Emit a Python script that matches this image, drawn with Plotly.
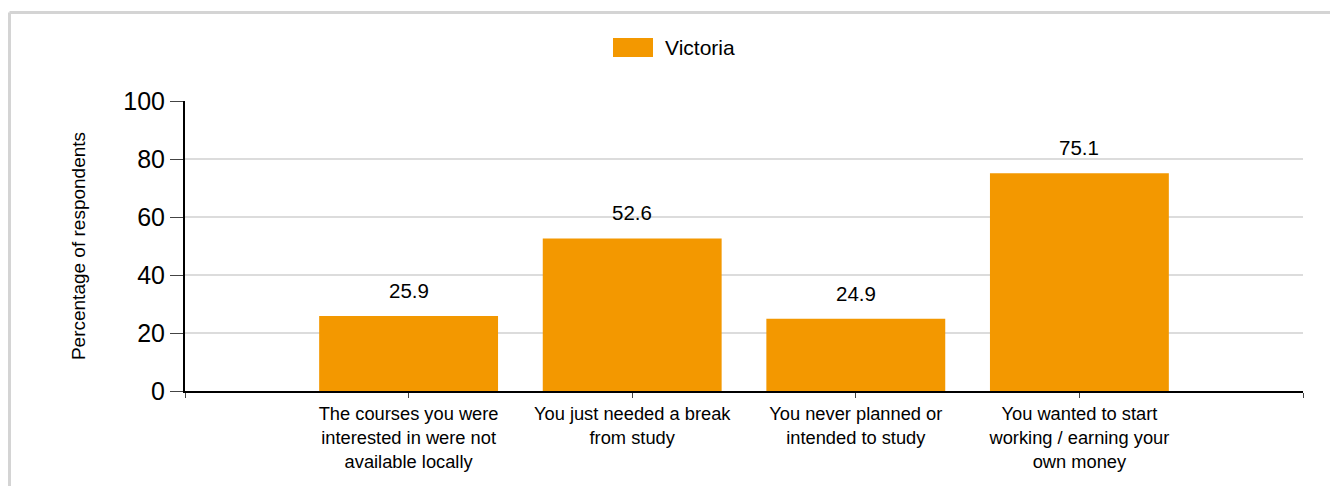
import plotly.graph_objects as go

categories = [
    "The courses you were<br>interested in were not<br>available locally",
    "You just needed a break<br>from study",
    "You never planned or<br>intended to study",
    "You wanted to start<br>working / earning your<br>own money",
]
values = [25.9, 52.6, 24.9, 75.1]
series_name = "Victoria"
y_ticks = [0, 20, 40, 60, 80, 100]

OFF = 8  # page body margin
W, H = 1330, 478
ML, MR, MT, MB = 177, 35, 93, 95
PW, PH = W - ML - MR, H - MT - MB

def px_x(x):  # screen px -> paper
    return (x - OFF - ML) / PW

def px_y(y):
    return (H - MB - (y - OFF)) / PH

ORANGE = "#f39800"
FONT = "Liberation Sans, Arial, sans-serif"

xs = list(range(len(categories)))

fig = go.Figure()
fig.add_trace(go.Bar(
    x=xs, y=values, name=series_name, marker_color=ORANGE,
    marker_line_width=0, width=0.8, showlegend=False,
))

annotations = []
for x, v in zip(xs, values):
    annotations.append(dict(
        x=x, y=v, xref="x", yref="y", text=f"{v:.1f}", showarrow=False,
        yanchor="bottom", yshift=12, font=dict(size=20.5, color="#000", family=FONT),
    ))
annotations.append(dict(
    x=px_x(663), y=px_y(47), xref="paper", yref="paper", text=series_name,
    showarrow=False, xanchor="left", yanchor="middle",
    font=dict(size=21, color="#000", family=FONT),
))

shapes = [
    dict(type="line", xref="paper", yref="paper", x0=px_x(9.5), x1=px_x(1400),
         y0=px_y(12.5), y1=px_y(12.5), line=dict(color="#d4d4d4", width=3)),
    dict(type="line", xref="paper", yref="paper", x0=px_x(9.5), x1=px_x(9.5),
         y0=px_y(12.5), y1=px_y(600), line=dict(color="#d4d4d4", width=3)),
    dict(type="rect", xref="paper", yref="paper", x0=px_x(613), x1=px_x(653),
         y0=px_y(57), y1=px_y(38), fillcolor=ORANGE, line=dict(width=0)),
]

fig.update_layout(
    width=W, height=H,
    margin=dict(l=ML, r=MR, t=MT, b=MB, autoexpand=False),
    paper_bgcolor="white", plot_bgcolor="white",
    font=dict(family=FONT, color="#000"),
    showlegend=False,
    annotations=annotations,
    shapes=shapes,
)
fig.update_xaxes(
    range=[-1, len(categories)],
    tickmode="array",
    tickvals=[-1] + xs + [len(categories)],
    ticktext=[""] + categories + [""],
    showgrid=False, zeroline=False,
    showline=True, linecolor="#000", linewidth=2,
    ticks="outside", ticklen=5, tickcolor="#444", tickwidth=1,
    tickfont=dict(size=18.3, family=FONT, color="#000"),
    tickangle=0,
)
fig.update_yaxes(
    range=[0, 100],
    tickmode="array", tickvals=y_ticks,
    showgrid=True, gridcolor="#dcdcdc", gridwidth=2,
    zeroline=False,
    showline=True, linecolor="#000", linewidth=2,
    ticks="outside", ticklen=13, tickcolor="#444", tickwidth=1,
    tickfont=dict(size=25, family=FONT, color="#000"),
    title=dict(text="Percentage of respondents", font=dict(size=19, family=FONT, color="#000"), standoff=33),
)

fig.write_html("out.html")
